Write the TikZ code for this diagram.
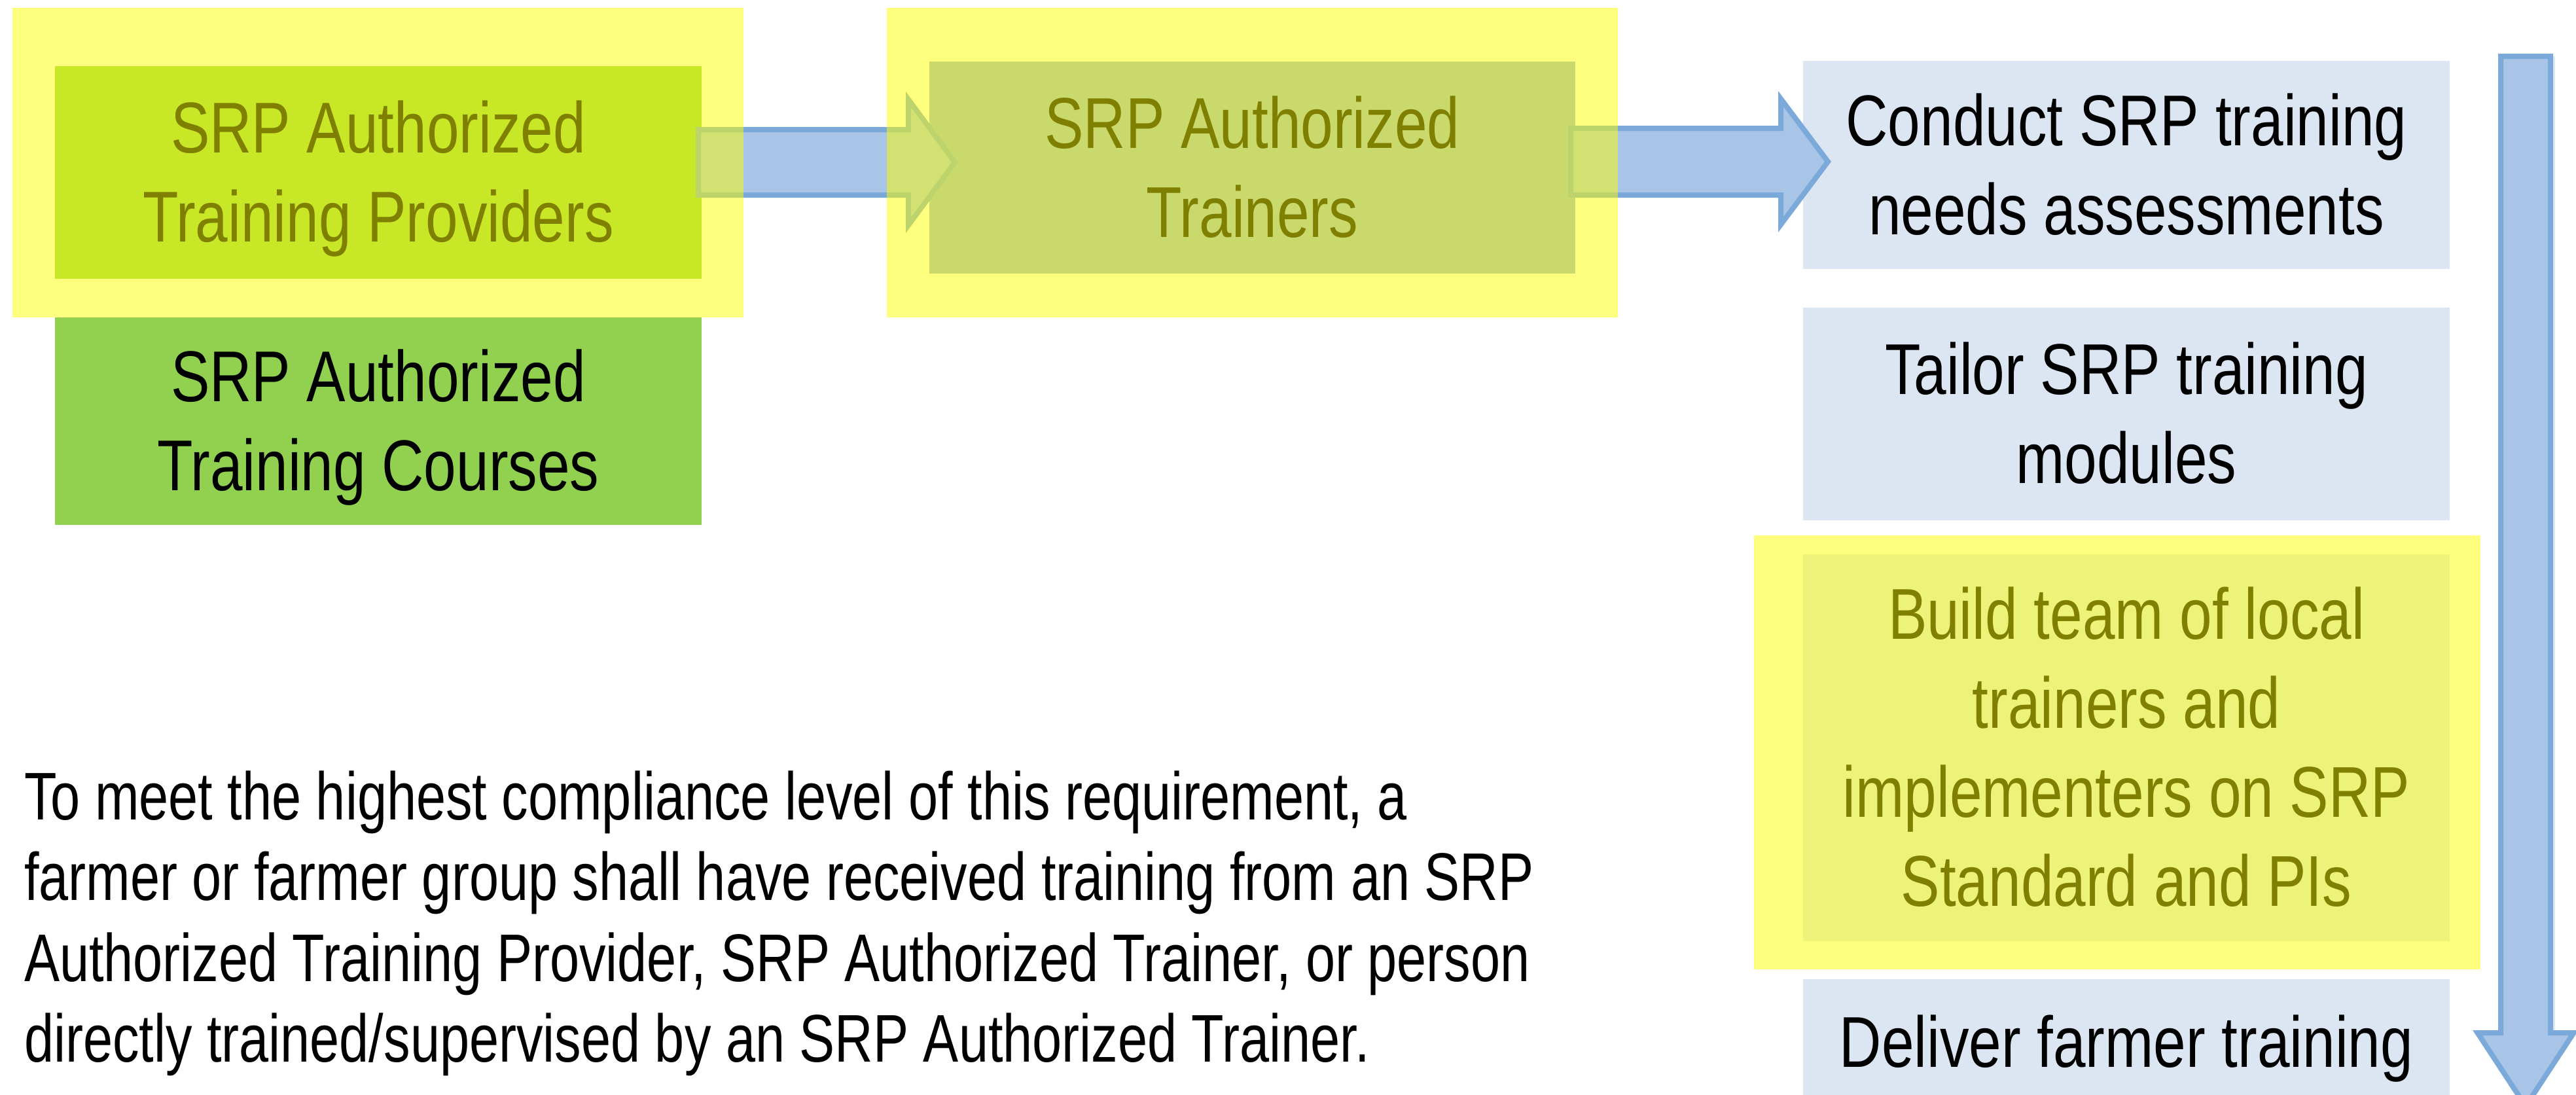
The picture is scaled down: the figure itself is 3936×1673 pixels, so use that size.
\documentclass[tikz,border=0pt]{standalone}
\usepackage{fontspec}
\setmainfont{Liberation Sans}[FakeStretch=0.81]
\newfontfamily\narrowfont{Liberation Sans}[FakeStretch=0.787]
\usetikzlibrary{calc}
\newcommand\pstr{\rule[-0.22\baselineskip]{0pt}{\baselineskip}}
\newcommand\boxfont{\fontsize{110}{136}\selectfont}
\newcommand\parafont{\narrowfont\fontsize{103}{123.5}\selectfont}
\definecolor{cgreen}{HTML}{92D050}
\definecolor{cblue}{HTML}{95B3D7}
\definecolor{clight}{HTML}{DCE6F2}
\definecolor{arrowfill}{HTML}{A8C4E6}
\definecolor{arrowline}{HTML}{7BA9DA}
\definecolor{arrowglow}{HTML}{DDE8F5}
\definecolor{hlyellow}{HTML}{FFFF00}
\begin{document}
\begin{tikzpicture}[x=1pt,y=-1pt,
  box/.style={inner sep=0pt, outer sep=0pt, align=center, font=\boxfont, text=black, minimum width=988pt},
  greenbox/.style={box, fill=cgreen},
  bluebox/.style={box, fill=cblue},
  lightbox/.style={box, fill=clight},
  blockarrow/.style={fill=arrowfill, draw=arrowline, line width=8pt, line join=miter},
  highlight/.style={fill=hlyellow, fill opacity=0.5}]
\useasboundingbox (0,0) rectangle (3936,1673);
\clip (0,0) rectangle (3936,1673);
\fill[white] (0,0) rectangle (3936,1673);

% boxes
\node[greenbox, minimum height=325pt] (prov) at (578,263.5) {SRP Authorized\pstr\\Training Providers\pstr};
\node[greenbox, minimum height=317pt] (courses) at (578,643.5) {SRP Authorized\pstr\\Training Courses\pstr};
\node[bluebox, minimum width=987pt, minimum height=324pt] (trainers) at (1913.5,256) {SRP Authorized\pstr\\Trainers\pstr};
\node[lightbox, minimum height=318pt] (conduct) at (3249,252) {Conduct SRP training\pstr\\needs assessments\pstr};
\node[lightbox, minimum height=325pt] (tailor) at (3249,632.5) {Tailor SRP training\pstr\\modules\pstr};
\node[lightbox, minimum height=591pt] (build) at (3249,1142.5) {Build team of local\pstr\\trainers and\pstr\\implementers on SRP\pstr\\Standard and PIs\pstr};
\node[lightbox, minimum height=192pt] (deliver) at (3249,1592) {Deliver farmer training\pstr};

% paragraph
\node[inner sep=0pt, outer sep=0pt, anchor=north west, align=left, font=\parafont, text=black] (note) at (37,1155.7)
 {To meet the highest compliance level of this requirement, a\pstr\\
  farmer or farmer group shall have received training from an SRP\pstr\\
  Authorized Training Provider, SRP Authorized Trainer, or person\pstr\\
  directly trained/supervised by an SRP Authorized Trainer.\pstr};

% block arrows
\coordinate (a1s) at ($(prov.east)+(-5,-15.5)$);
\coordinate (a1e) at ($(trainers.west)+(39,-8)$);
\coordinate (a2s) at ($(trainers.east)+(-7,-9)$);
\coordinate (a2e) at ($(conduct.west)+(38,-5)$);
\coordinate (dtop) at ($(conduct.north east)+(116,-7)$);
\coordinate (dbot) at ($(deliver.south east)+(116,2)$);

\draw[blockarrow] ($(a1s)+(0,-50)$) -- ($(a1e)+(-71,-50)$) -- ($(a1e)+(-71,-96)$) -- (a1e)
  -- ($(a1e)+(-71,96)$) -- ($(a1e)+(-71,50)$) -- ($(a1s)+(0,50)$) -- cycle;
\draw[blockarrow] ($(a2s)+(0,-51)$) -- ($(a2e)+(-72,-51)$) -- ($(a2e)+(-72,-96)$) -- (a2e)
  -- ($(a2e)+(-72,96)$) -- ($(a2e)+(-72,51)$) -- ($(a2s)+(0,51)$) -- cycle;
\fill[arrowglow] ($(dtop)+(38,0)$) rectangle ($(dbot)+(45,-112)$);
\draw[blockarrow] ($(dtop)+(-38,0)$) -- ($(dbot)+(-38,-112)$) -- ($(dbot)+(-73.5,-112)$) -- (dbot)
  -- ($(dbot)+(73.5,-112)$) -- ($(dbot)+(38,-112)$) -- ($(dtop)+(38,0)$) -- cycle;

% translucent yellow highlights
\fill[highlight] (19,12) rectangle (1136,485);
\fill[highlight] (1355,12) rectangle (2472,485);
\fill[highlight] (2680,818) rectangle (3790,1481);
\end{tikzpicture}
\end{document}
